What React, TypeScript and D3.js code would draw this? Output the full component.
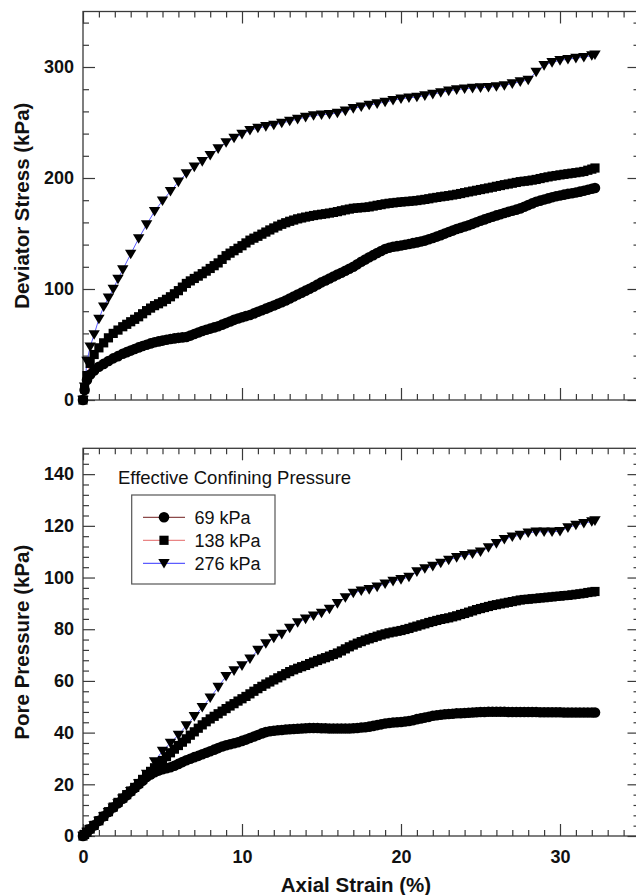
import React, { useEffect, useRef } from "react";
import * as d3 from "d3";

// axial strain (%) shared by every test
const strain = [
  0, 0.1, 0.25, 0.45, 0.7, 1.0, 1.3, 1.6, 1.9, 2.2, 2.5, 3.0, 3.5, 4.0, 4.5, 5.0, 5.5, 6.0, 6.5, 7.0,
  7.5, 8.0, 8.5, 9.0, 9.5, 10.0, 10.5, 11.0, 11.5, 12.0, 12.5, 13.0, 13.5, 14.0, 14.5, 15.0, 15.5,
  16.0, 16.5, 17.0, 17.5, 18.0, 18.5, 19.0, 19.5, 20.0, 20.5, 21.0, 21.5, 22.0, 22.5, 23.0, 23.5,
  24.0, 24.5, 25.0, 25.5, 26.0, 26.5, 27.0, 27.5, 28.0, 28.5, 29.0, 29.5, 30.0, 30.5, 31.0, 31.5,
  32.0, 32.2,
];
// extra readings in between for the denser 69 / 138 kPa records
const strainMid = [
  2.75, 3.25, 3.75, 4.25, 4.75, 5.25, 5.75, 6.25, 6.75, 7.25, 7.75, 8.25, 8.75, 9.25, 9.75, 10.25,
  10.75, 11.25, 11.75, 12.25, 12.75, 13.25, 13.75, 14.25, 14.75, 15.25, 15.75, 16.25, 16.75, 17.25,
  17.75, 18.25, 18.75, 19.25, 19.75, 20.25, 20.75, 21.25, 21.75, 22.25, 22.75, 23.25, 23.75, 24.25,
  24.75, 25.25, 25.75, 26.25, 26.75, 27.25, 27.75, 28.25, 28.75, 29.25, 29.75, 30.25, 30.75, 31.25,
  31.75,
];

// deviator stress (kPa)
const dev69 = [
  0, 9, 18, 23, 26.5, 30, 32.5, 35.2, 37.5, 39.5, 41.7, 44.5, 47.4, 49.8, 52, 53.5, 55, 56, 56.7,
  59.5, 62.2, 64.3, 66.5, 69.3, 72.2, 74.5, 76.6, 79.5, 82.3, 85.2, 88, 91.5, 95, 98.5, 102, 106,
  109.5, 113, 116.5, 120, 124.5, 128.6, 132.5, 136, 138, 139.2, 140.6, 142, 143.6, 146, 148.5,
  151.3, 154, 156.3, 158.7, 161.5, 164, 166.3, 168.5, 170.5, 172.6, 175.6, 178.6, 180.6, 182.6,
  184.3, 185.7, 187, 188.5, 190.3, 191,
];
const dev69Mid = [
  43.1, 46, 48.6, 51, 52.8, 54.3, 55.5, 56.4, 58, 60.8, 63.3, 65.4, 67.9, 70.7, 73.4, 75.6, 78,
  80.9, 83.7, 86.6, 89.7, 93.2, 96.7, 100.2, 104, 107.7, 111.2, 114.7, 118.2, 122.2, 126.5, 130.5,
  134.3, 137.1, 138.6, 139.9, 141.3, 142.8, 144.8, 147.2, 149.9, 152.6, 155.1, 157.5, 160.1, 162.7,
  165.1, 167.4, 169.5, 171.5, 174.1, 177.1, 179.6, 181.6, 183.5, 185, 186.3, 187.7, 189.4,
];
const dev138 = [
  0, 10, 22, 33, 41, 47, 51.5, 56, 60, 63, 66, 70.5, 75, 80.5, 85, 88.5, 93, 98.5, 105, 109.5,
  113.8, 118.5, 123.5, 130, 134.5, 139, 144, 147.5, 151.3, 155, 158.3, 161, 163.2, 164.8, 166.2,
  167.3, 168.4, 169.7, 171.3, 172.7, 173.3, 174, 175.4, 176.7, 177.6, 178.4, 179, 179.7, 180.7, 182,
  183.1, 184.1, 185.3, 186.8, 188.2, 189.6, 191, 192.5, 194, 195.3, 196.7, 197.5, 198.7, 200.3,
  201.7, 202.8, 203.8, 204.8, 205.9, 208, 209,
];
const dev138Mid = [
  68.2, 72.7, 77.7, 82.8, 86.7, 90.7, 95.7, 101.7, 107.3, 111.6, 116.1, 121, 126.7, 132.3, 136.7,
  141.5, 145.8, 149.4, 153.2, 156.7, 159.7, 162.1, 164, 165.5, 166.8, 167.8, 169, 170.5, 172, 173,
  173.6, 174.7, 176, 177.2, 178, 178.7, 179.3, 180.2, 181.3, 182.5, 183.6, 184.7, 186, 187.5, 188.9,
  190.3, 191.7, 193.2, 194.6, 196, 197.1, 198.1, 199.5, 201, 202.2, 203.3, 204.3, 205.3, 207,
];
const dev276 = [
  0, 12, 35, 48, 59, 73, 84, 92, 100, 109, 117.5, 131.5, 145.5, 158, 170, 179.5, 188, 196.5, 204,
  210, 215, 220.5, 226.5, 232, 236, 239.5, 243, 245, 246.5, 247.8, 249.5, 251.3, 253, 254.8, 256.3,
  257, 257.5, 258.5, 260.5, 262.7, 264.2, 265.7, 267, 268.5, 270, 271.4, 272.3, 273, 274.2, 275.6,
  277, 278.5, 279.6, 280.4, 281, 281.4, 281.8, 282.5, 283.4, 285, 286.8, 288.3, 295.5, 301.5,
  304.2, 306, 307, 308, 308.8, 310.3, 311,
];

// pore pressure (kPa)
const pp69 = [
  0, 0.6, 1.5, 2.7, 4.1, 5.9, 7.6, 9.3, 11, 12.7, 14.4, 17.2, 20, 22.8, 24.7, 25.8, 26.6, 27.9,
  29.3, 30.5, 31.6, 32.8, 34, 35.1, 35.9, 36.8, 37.9, 39.1, 40.2, 40.7, 41, 41.3, 41.5, 41.7, 41.8,
  41.7, 41.6, 41.6, 41.6, 41.7, 42, 42.3, 42.9, 43.5, 43.9, 44.1, 44.5, 45.2, 45.8, 46.5, 46.9,
  47.2, 47.5, 47.6, 47.8, 48, 48.1, 48.1, 48.1, 48, 48, 48, 48, 47.9, 47.9, 47.9, 47.8, 47.8, 47.8,
  47.8, 47.8,
];
const pp69Mid = [
  15.8, 18.6, 21.4, 23.8, 25.3, 26.2, 27.2, 28.6, 29.9, 31, 32.2, 33.4, 34.6, 35.5, 36.3, 37.3,
  38.5, 39.7, 40.5, 40.9, 41.2, 41.4, 41.6, 41.8, 41.8, 41.7, 41.6, 41.6, 41.6, 41.8, 42.1, 42.6,
  43.2, 43.7, 44, 44.3, 44.8, 45.5, 46.1, 46.7, 47.1, 47.3, 47.5, 47.7, 47.9, 48, 48.1, 48.1, 48,
  48, 48, 48, 47.9, 47.9, 47.9, 47.8, 47.8, 47.8, 47.8,
];
const pp138 = [
  0, 0.6, 1.5, 2.7, 4.1, 5.9, 7.6, 9.4, 11.2, 13, 14.7, 17.4, 20.3, 23.5, 26.4, 29.2, 32.2, 35,
  37.6, 40.3, 43, 45.3, 47.3, 49.3, 51.2, 53.1, 55, 57, 58.8, 60.4, 62, 63.6, 64.9, 66, 67.3, 68.5,
  69.6, 70.8, 72.4, 73.9, 75.2, 76.3, 77.3, 78.2, 78.9, 79.5, 80.3, 81.2, 82.1, 83, 83.8, 84.4,
  85.2, 86.1, 87.1, 88, 88.8, 89.5, 90.1, 90.7, 91.3, 91.6, 91.9, 92.2, 92.5, 92.8, 93.1, 93.5,
  93.9, 94.4, 94.6,
];
const pp138Mid = [
  16, 18.8, 21.9, 25, 27.8, 30.7, 33.6, 36.3, 39, 41.7, 44.2, 46.3, 48.3, 50.3, 52.2, 54, 56, 57.9,
  59.6, 61.2, 62.8, 64.3, 65.5, 66.7, 67.9, 69, 70.2, 71.6, 73.2, 74.6, 75.8, 76.8, 77.8, 78.6,
  79.2, 79.9, 80.8, 81.7, 82.6, 83.4, 84.1, 84.8, 85.7, 86.6, 87.6, 88.4, 89.2, 89.8, 90.4, 91,
  91.5, 91.8, 92.1, 92.4, 92.7, 93, 93.3, 93.7, 94.2,
];
const pp276 = [
  0, 0.6, 1.5, 2.6, 4, 5.8, 7.5, 9.2, 10.9, 12.6, 14.4, 17.3, 20.3, 24, 28.8, 32.9, 36, 39.1, 42.7,
  46.3, 49.8, 53.5, 57.6, 61.8, 64, 65.9, 68.6, 71.9, 74.5, 76.6, 78.1, 80.5, 82.6, 84, 85.2, 86.3,
  87.8, 90, 92.3, 94, 94.9, 95.4, 96.4, 97.6, 98.6, 99.3, 100.2, 102.3, 103.5, 104.4, 105.6, 106.8,
  107.8, 108.6, 109.2, 110, 111.6, 113.2, 114.8, 115.8, 116.4, 117.3, 117.7, 117.7, 117.7, 117.9,
  119.3, 120.3, 121, 121.7, 122,
];

const seriesNames = ["69 kPa", "138 kPa", "276 kPa"];
const lineColors = ["#8c4a4a", "#e98585", "#5c5cff"];
const shapes = ["circle", "square", "triangle"];
const legendTitle = "Effective Confining Pressure";

const xTicks = [0, 10, 20, 30];
const devTicks = [0, 100, 200, 300];
const ppTicks = [0, 20, 40, 60, 80, 100, 120, 140];

const W = 636;
const H = 895;
const FONT = "'Liberation Sans', Arial, Helvetica, sans-serif";
const AXIS = "#3a3a3a";

const markerPath = (shape: string) => {
  if (shape === "circle") return "M5.3,0A5.3,5.3 0 1 1 -5.3,0A5.3,5.3 0 1 1 5.3,0Z";
  if (shape === "square") return "M-4.6,-4.6h9.2v9.2h-9.2Z";
  return "M-5.7,-4.3L5.7,-4.3L0,5.3Z";
};

// join the main and in-between readings of one test, ordered by strain
const joinReadings = (vals: number[], mids: number[]) =>
  vals
    .map((v, i) => [strain[i], v])
    .concat(mids.map((v, i) => [strainMid[i], v]))
    .sort((a, b) => a[0] - b[0]);

const App = () => {
  const svgRef = useRef<SVGSVGElement>(null);

  useEffect(() => {
    const svg = d3.select(svgRef.current);
    svg.selectAll("*").remove();

    const x = d3.scaleLinear().domain([0, 35]).range([83, 639.5]);

    const panels = [
      {
        top: 11.5, bottom: 400, domain: [0, 350], ticks: devTicks, minorStep: 20,
        series: [joinReadings(dev69, dev69Mid), joinReadings(dev138, dev138Mid), joinReadings(dev276, [])],
        title: "Deviator Stress (kPa)", xLabels: false,
      },
      {
        top: 448.3, bottom: 836, domain: [0, 150], ticks: ppTicks, minorStep: 4,
        series: [joinReadings(pp69, pp69Mid), joinReadings(pp138, pp138Mid), joinReadings(pp276, [])],
        title: "Pore Pressure (kPa)", xLabels: true,
      },
    ];

    const styleAxis = (g: any) => {
      g.select(".domain").remove();
      g.selectAll("line").attr("stroke", AXIS).attr("stroke-width", 1.2);
      g.selectAll("text")
        .style("font-family", FONT)
        .style("font-size", "18px")
        .style("font-weight", "bold")
        .attr("fill", "#111");
    };

    const xMinor = d3.range(0, 35.01, 1).filter((v) => v % 10 !== 0);

    panels.forEach((p) => {
      const y = d3.scaleLinear().domain(p.domain).range([p.bottom, p.top]);
      const g = svg.append("g");
      const yMinor = d3
        .range(p.domain[0], p.domain[1] + 0.01, p.minorStep)
        .filter((v) => !p.ticks.includes(v));

      // frame
      g.append("rect")
        .attr("x", x(0))
        .attr("y", p.top)
        .attr("width", x(35) - x(0))
        .attr("height", p.bottom - p.top)
        .attr("fill", "none")
        .attr("stroke", AXIS)
        .attr("stroke-width", 1.3);

      // inward ticks, all four sides
      g.append("g")
        .attr("transform", `translate(${x(0)},0)`)
        .call(d3.axisLeft(y).tickValues(p.ticks).tickSize(-12).tickSizeOuter(0).tickPadding(9).tickFormat(d3.format("d")))
        .call(styleAxis);
      g.append("g")
        .attr("transform", `translate(${x(0)},0)`)
        .call(d3.axisLeft(y).tickValues(yMinor).tickSize(-6).tickSizeOuter(0).tickFormat(() => ""))
        .call(styleAxis);
      g.append("g")
        .attr("transform", `translate(${x(35)},0)`)
        .call(d3.axisRight(y).tickValues(p.ticks).tickSize(-12).tickSizeOuter(0).tickFormat(() => ""))
        .call(styleAxis);
      g.append("g")
        .attr("transform", `translate(${x(35)},0)`)
        .call(d3.axisRight(y).tickValues(yMinor).tickSize(-6).tickSizeOuter(0).tickFormat(() => ""))
        .call(styleAxis);

      g.append("g")
        .attr("transform", `translate(0,${p.bottom})`)
        .call(
          d3.axisBottom(x).tickValues(xTicks).tickSize(-12).tickSizeOuter(0).tickPadding(14.5)
            .tickFormat(p.xLabels ? d3.format("d") : () => "")
        )
        .call(styleAxis);
      g.append("g")
        .attr("transform", `translate(0,${p.bottom})`)
        .call(d3.axisBottom(x).tickValues(xMinor).tickSize(-6).tickSizeOuter(0).tickFormat(() => ""))
        .call(styleAxis);
      g.append("g")
        .attr("transform", `translate(0,${p.top})`)
        .call(d3.axisTop(x).tickValues(xTicks).tickSize(-12).tickSizeOuter(0).tickFormat(() => ""))
        .call(styleAxis);
      g.append("g")
        .attr("transform", `translate(0,${p.top})`)
        .call(d3.axisTop(x).tickValues(xMinor).tickSize(-6).tickSizeOuter(0).tickFormat(() => ""))
        .call(styleAxis);

      // y title
      g.append("text")
        .attr("transform", `translate(29,${(p.top + p.bottom) / 2}) rotate(-90)`)
        .attr("text-anchor", "middle")
        .style("font-family", FONT)
        .style("font-size", "20.5px")
        .style("font-weight", "bold")
        .attr("fill", "#111")
        .text(p.title);

      // series lines then markers
      const line = d3
        .line<number[]>()
        .x((d) => x(d[0]))
        .y((d) => y(d[1]));

      p.series.forEach((pts, si) => {
        g.append("path")
          .datum(pts)
          .attr("d", line)
          .attr("fill", "none")
          .attr("stroke", lineColors[si])
          .attr("stroke-width", 1);
      });
      p.series.forEach((pts, si) => {
        g.append("g")
          .selectAll("path")
          .data(pts)
          .enter()
          .append("path")
          .attr("transform", (d) => `translate(${x(d[0])},${y(d[1])})`)
          .attr("d", markerPath(shapes[si]))
          .attr("fill", "#000");
      });
    });

    // x title
    svg.append("text")
      .attr("x", 356)
      .attr("y", 891.5)
      .attr("text-anchor", "middle")
      .style("font-family", FONT)
      .style("font-size", "20.5px")
      .style("font-weight", "bold")
      .attr("fill", "#111")
      .text("Axial Strain (%)");

    // legend
    const lg = svg.append("g");
    lg.append("text")
      .attr("x", 118)
      .attr("y", 484)
      .style("font-family", FONT)
      .style("font-size", "18.5px")
      .attr("fill", "#111")
      .text(legendTitle);
    lg.append("rect")
      .attr("x", 131.7)
      .attr("y", 495)
      .attr("width", 143.3)
      .attr("height", 89)
      .attr("fill", "#fff")
      .attr("stroke", "#555")
      .attr("stroke-width", 1.2);
    const rowY = d3.scaleLinear().domain([0, 2]).range([517.3, 563.3]);
    seriesNames.forEach((name, i) => {
      const yy = rowY(i);
      lg.append("line")
        .attr("x1", 143)
        .attr("x2", 185)
        .attr("y1", yy)
        .attr("y2", yy)
        .attr("stroke", lineColors[i])
        .attr("stroke-width", 1.3);
      lg.append("path")
        .attr("transform", `translate(164,${yy})`)
        .attr("d", markerPath(shapes[i]))
        .attr("fill", "#000");
      lg.append("text")
        .attr("x", 194.5)
        .attr("y", yy)
        .attr("dy", "0.36em")
        .style("font-family", FONT)
        .style("font-size", "18px")
        .attr("fill", "#111")
        .text(name);
    });
  }, []);

  return (
    <svg
      ref={svgRef}
      width={W}
      height={H}
      style={{ position: "absolute", left: 0, top: 0, background: "#fff" }}
    />
  );
};

export default App;
